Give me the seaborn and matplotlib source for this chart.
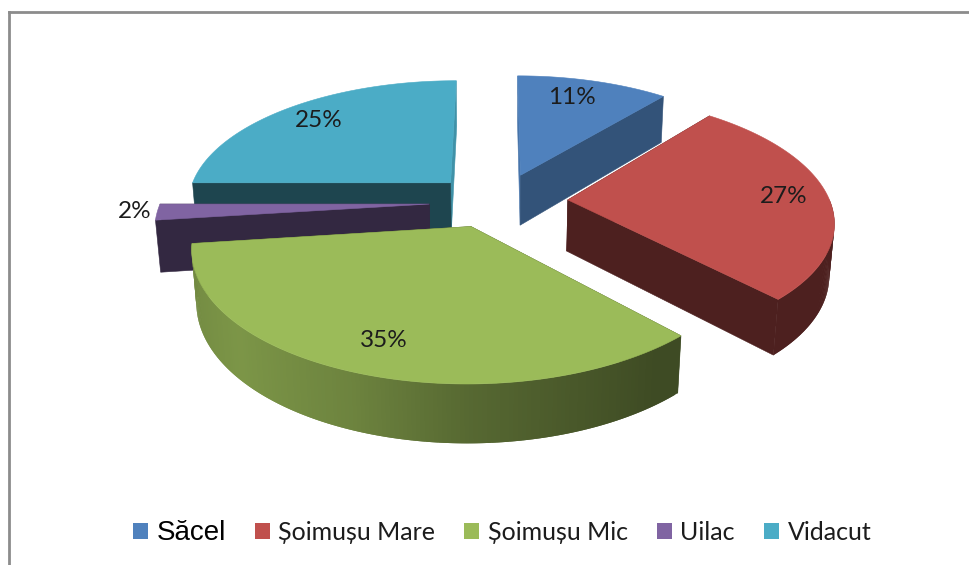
import numpy as np
import matplotlib
matplotlib.use("Agg")
import matplotlib.pyplot as plt
from matplotlib.collections import PolyCollection
from matplotlib.patches import Patch, Polygon
import seaborn as sns

# --- data ---
categories = ["Săcel", "Șoimușu Mare", "Șoimușu Mic", "Uilac", "Vidacut"]
values = [11, 27, 35, 2, 25]
hex_colors = ["#4F81BD", "#C0504D", "#9BBB59", "#8064A2", "#4BACC6"]

# --- style / layout of the perspective pie ---
explode = [0.25, 0.29, 0.24, 0.27, 0.24]
radius = [1.0, 1.0, 1.015, 1.025, 1.01]
nudge = [(7, 3), (0, 1), (1, -2), (8, 2), (2, 3)]
show_rim = [True, True, True, False, True]
label_radius = [0.78, 0.83, 0.80, 1.08, 0.80]
face_shade = [(0.9, 0.64), (0.4, 0.4), (0.4, 0.4), (0.4, 0.4), (0.4, 0.85)]
draw_order = [0, 4, 3, 1, 2]
CX, CY, A, B, K = 492, 200, 262, 122, 0.15
DEPTH, DEPTH_K = 52, 0.015

sns.set_theme(style="white")
palette = sns.color_palette(hex_colors)
plt.rcParams["font.family"] = ["Lato", "DejaVu Sans"]


def project(u, v, z=0.0):
    w = 1 + K * np.asarray(v) + DEPTH_K * z
    return CX + A * np.asarray(u) / w, CY - B * np.asarray(v) / w + DEPTH * z / w


def arc_shade(nu):
    return np.interp(nu, [-1, -0.75, -0.35, 0.0, 0.6, 1], [0.74, 0.8, 0.7, 0.56, 0.4, 0.4])


fig = plt.figure(figsize=(9.7, 5.65), dpi=100)
ax = fig.add_axes([9 / 970, 0, 961 / 970, 1 - 12 / 565])
ax.set_xlim(9, 970)
ax.set_ylim(565, 12)
ax.set_xticks([])
ax.set_yticks([])
sns.despine(ax=ax, right=True, bottom=True)
for side in ("left", "top"):
    ax.spines[side].set_visible(True)
    ax.spines[side].set_color("#8c8c8c")
    ax.spines[side].set_linewidth(2)

total = sum(values)
edges = np.concatenate([[0], np.cumsum(values)]) / total * 2 * np.pi

for i in draw_order:
    t0, t1 = edges[i], edges[i + 1]
    mid = (t0 + t1) / 2
    cu, cv = explode[i] * np.sin(mid), explode[i] * np.cos(mid)
    th = np.linspace(t0, t1, 160)
    rad = radius[i]
    us, vs = cu + rad * np.sin(th), cv + rad * np.cos(th)
    col = np.array(palette[i])
    nx, ny = nudge[i]

    def pts(u, v, z=0.0):
        x, y = project(u, v, z)
        return x + nx, y + ny

    # radial cut faces
    for t, shade in sorted(zip((t0, t1), face_shade[i]), key=lambda p: -np.cos(p[0])):
        eu, ev = cu + rad * np.sin(t), cv + rad * np.cos(t)
        ax.add_patch(Polygon([pts(cu, cv), pts(eu, ev), pts(eu, ev, 1), pts(cu, cv, 1)], closed=True,
                             facecolor=col * shade, edgecolor=col * shade, lw=0.4))

    # outer rim, shaded segment by segment; quads overlap so no seams show
    polys, cols = [], []
    for j in range(len(th) - 1):
        tm = (th[j] + th[j + 1]) / 2
        if np.cos(tm) > 0.0 or not show_rim[i]:
            continue
        k = min(j + 2, len(th) - 1)
        polys.append([pts(us[j], vs[j]), pts(us[k], vs[k]), pts(us[k], vs[k], 1), pts(us[j], vs[j], 1)])
        cols.append(col * arc_shade(np.sin(tm)))
    if polys:
        ax.add_collection(PolyCollection(polys, facecolors=cols, edgecolors="none", linewidths=0))

    # top surface
    xt, yt = pts(np.r_[cu, us], np.r_[cv, vs])
    ax.add_patch(Polygon(np.c_[xt, yt], closed=True, facecolor=col, edgecolor=col, lw=0.4))

# percentage labels
for i, val in enumerate(values):
    mid = (edges[i] + edges[i + 1]) / 2
    r = explode[i] + label_radius[i]
    lx, ly = project(r * np.sin(mid), r * np.cos(mid))
    ax.text(lx, ly + 1, f"{val}%", ha="center", va="center", fontsize=17.5, color="#1c1c1c", zorder=10)

# legend
handles = [Patch(facecolor=c, edgecolor="none") for c in palette]
leg = ax.legend(handles, categories, loc="center", bbox_to_anchor=(502, 533),
                bbox_transform=ax.transData, ncol=5, frameon=False, fontsize=18,
                handlelength=0.6, handleheight=0.6, handletextpad=0.35, columnspacing=1.15,
                labelcolor="#1c1c1c")
leg.get_texts()[0].set_fontfamily("Liberation Sans")
leg.get_texts()[0].set_fontsize(20)
leg.get_texts()[0].set_color("black")

fig.savefig("out.png", dpi=100, facecolor="white")
